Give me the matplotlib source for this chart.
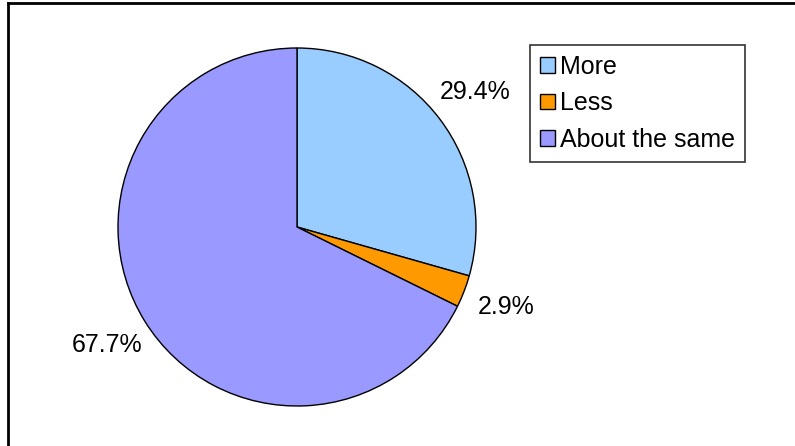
import matplotlib
matplotlib.use("Agg")
import matplotlib.pyplot as plt
from matplotlib.lines import Line2D

categories = ["More", "Less", "About the same"]
values = [29.4, 2.9, 67.7]
colors = ["#99CCFF", "#FF9900", "#9999FF"]

plt.rcParams['font.family'] = ['Liberation Sans', 'DejaVu Sans']

W, H = 795, 446
fig = plt.figure(figsize=(W / 100, H / 100), dpi=100)
ax = fig.add_axes([0, 0, 1, 1])

cx, cy, R = 297, H - 227, 179
wedges, texts, autotexts = ax.pie(
    values, colors=colors, startangle=90, counterclock=False,
    center=(cx, cy), radius=R, autopct='%1.1f%%', pctdistance=1.25,
    wedgeprops=dict(edgecolor='black', linewidth=1.0),
    textprops=dict(fontsize=18, color='black'), frame=True)
ax.set_xlim(0, W)
ax.set_ylim(0, H)
ax.set_aspect('equal')
ax.axis('off')

# outer chart border (cropped view)
fig.add_artist(Line2D([8 / W, 8 / W], [0, 1 - 3 / H], transform=fig.transFigure,
                      color='black', linewidth=2))
fig.add_artist(Line2D([8 / W, 1], [1 - 3 / H, 1 - 3 / H], transform=fig.transFigure,
                      color='black', linewidth=2))

leg = ax.legend(wedges, categories, loc='upper left',
                bbox_to_anchor=(530 / W, 1 - 45 / H), bbox_transform=fig.transFigure,
                fontsize=18, frameon=True, fancybox=False, framealpha=1,
                edgecolor='#333333', handlelength=0.58, handleheight=0.58,
                handletextpad=0.2, labelspacing=0.5, borderpad=0.4,
                borderaxespad=0)
leg.get_frame().set_linewidth(1.2)
for h in leg.legend_handles:
    h.set_linewidth(1.0)
    h.set_edgecolor('black')

fig.savefig("out.png", dpi=100)
